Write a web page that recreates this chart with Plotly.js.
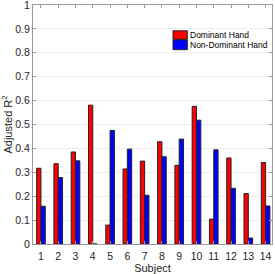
<!DOCTYPE html>
<html>
<head>
<meta charset="utf-8">
<script src="https://cdn.plot.ly/plotly-3.0.1.min.js"></script>
<style>html,body{margin:0;padding:0;background:#fff;}#chart{width:275px;height:274px;}</style>
</head>
<body>
<div id="chart"></div>
<script>
var subjects = [1,2,3,4,5,6,7,8,9,10,11,12,13,14];
var tickLabels = ["1","2","3","4","5","6","7","8","9","10","11","12","13","14"];
var dominant = [0.317,0.336,0.385,0.581,0.079,0.314,0.347,0.428,0.329,0.576,0.104,0.360,0.211,0.341];
var nonDominant = [0.158,0.278,0.348,0,0.475,0.397,0.204,0.365,0.439,0.518,0.394,0.233,0.025,0.159];
var seriesNames = ["Dominant Hand","Non-Dominant Hand"];
var seriesColors = ["#ff0000","#0000ff"];
var yTicks = [0,0.1,0.2,0.3,0.4,0.5,0.6,0.7,0.8,0.9,1];
var yTickText = ["0","0.1","0.2","0.3","0.4","0.5","0.6","0.7","0.8","0.9","1"];

var font = "Liberation Sans, Arial, sans-serif";
var traces = [
  {type:"bar", x:subjects, y:dominant, name:seriesNames[0],
   marker:{color:seriesColors[0], line:{color:"#222", width:1}}},
  {type:"bar", x:subjects, y:nonDominant, name:seriesNames[1],
   marker:{color:seriesColors[1], line:{color:"#222", width:1}}}
];

// legend drawn as swatches + labels (paper coords)
var legendBoxes = [[0.8565,0.8920],[0.8130,0.8540]];
var legendTextY = [0.874,0.833];
var shapes = [], annotations = [];
for (var i = 0; i < seriesNames.length; i++) {
  shapes.push({type:"rect", xref:"paper", yref:"paper", x0:0.5858, x1:0.6456,
    y0:legendBoxes[i][0], y1:legendBoxes[i][1],
    fillcolor:seriesColors[i], line:{color:"#222", width:1}});
  annotations.push({xref:"paper", yref:"paper", x:0.6475, y:legendTextY[i],
    xanchor:"left", yanchor:"middle", showarrow:false, text:seriesNames[i],
    font:{family:font, size:8.5, color:"#000"}});
}

var layout = {
  width:275, height:274,
  margin:{l:33, r:3, t:5, b:30, autoexpand:false},
  paper_bgcolor:"#fff", plot_bgcolor:"#fff",
  barmode:"group", bargap:0.5, bargroupgap:0,
  font:{family:font, color:"#262626", size:10},
  showlegend:false,
  shapes:shapes, annotations:annotations,
  xaxis:{range:[0.54,14.37], tickvals:subjects, ticktext:tickLabels, tickangle:0,
         ticks:"inside", ticklen:3, tickcolor:"#999", mirror:"ticks",
         showline:true, linecolor:"#999", linewidth:1, showgrid:false, zeroline:false,
         automargin:true, ticklabeloverflow:"allow", ticklabelstandoff:2,
         tickfont:{size:10.5, color:"#262626"},
         title:{text:"Subject", font:{size:11, color:"#262626"}, standoff:3}},
  yaxis:{range:[0,1], tickvals:yTicks, ticktext:yTickText,
         ticks:"inside", ticklen:3, tickcolor:"#999", mirror:"ticks",
         showline:true, linecolor:"#999", linewidth:1,
         showgrid:true, gridcolor:"#eeeeee", gridwidth:1, zeroline:false,
         automargin:false, ticklabeloverflow:"allow",
         tickfont:{size:10.5, color:"#262626"},
         title:{text:"Adjusted R<sup>2</sup>", font:{size:11, color:"#262626"}, standoff:4}}
};
Plotly.newPlot("chart", traces, layout, {displayModeBar:false, staticPlot:true});
</script>
</body>
</html>
